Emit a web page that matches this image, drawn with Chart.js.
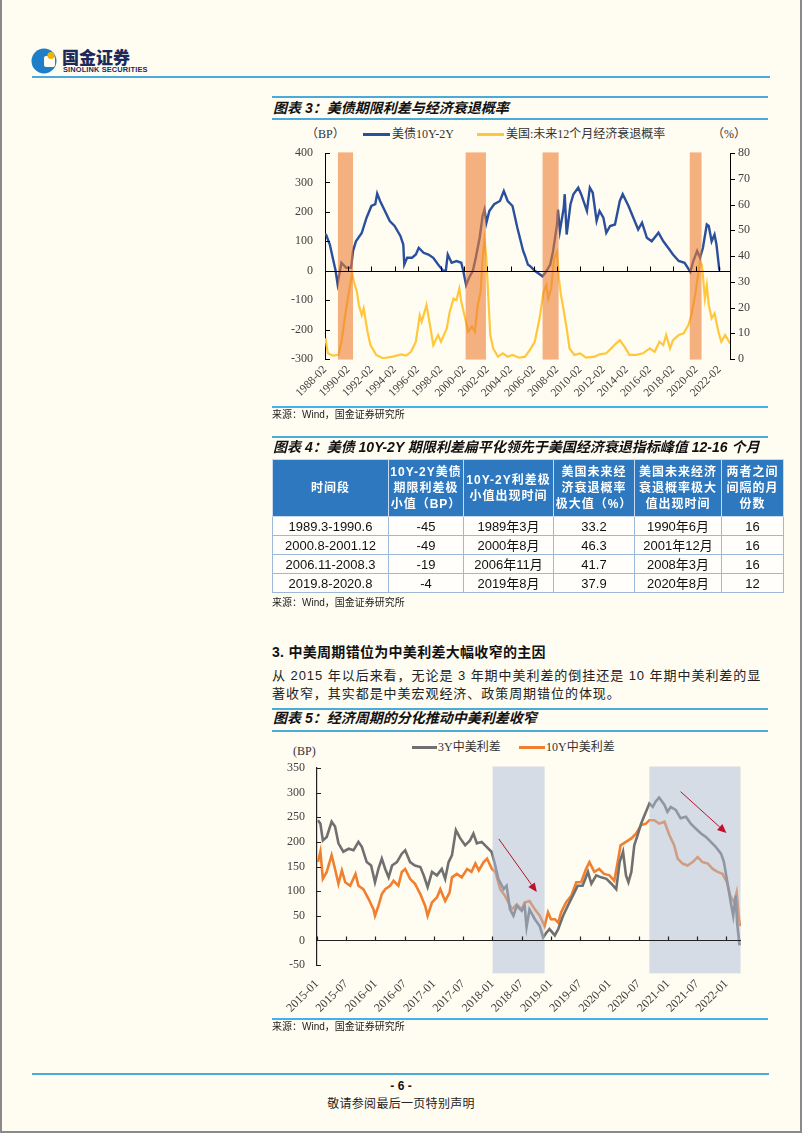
<!DOCTYPE html>
<html>
<head>
<meta charset="utf-8">
<script src="https://cdn.jsdelivr.net/npm/chart.js@4.4.1/dist/chart.umd.min.js"></script>
<style>
html,body{margin:0;padding:0;background:#FFFCF2;}
#page{position:relative;width:802px;height:1133px;overflow:hidden;background:#FFFCF2;font-family:"Liberation Sans","Noto Sans CJK SC",sans-serif;color:#1a1a1a;}
.abs{position:absolute;white-space:nowrap;}
.hl{position:absolute;height:2px;background:#4AAAD9;}
.ttl{position:absolute;left:273px;font-family:"Liberation Sans","Noto Sans CJK SC",sans-serif;font-size:14px;font-weight:bold;font-style:italic;line-height:16px;letter-spacing:0;color:#111;white-space:nowrap;}
.src{position:absolute;left:272px;font-size:10px;line-height:12px;color:#222;white-space:nowrap;}
.leg{position:absolute;font-family:"Liberation Serif","Noto Sans CJK SC",serif;font-size:12px;line-height:14px;color:#333;white-space:nowrap;}
.lm{position:absolute;height:3px;}
#t4{position:absolute;left:272px;top:459px;width:511px;border-collapse:collapse;table-layout:fixed;font-family:"Liberation Sans","Noto Sans CJK SC",sans-serif;}
#t4 th{background:#2D78BE;color:#fff;font-size:12px;font-weight:bold;line-height:16px;letter-spacing:1px;height:56px;padding:0;border:1px solid #C9DAEE;text-align:center;}
#t4 td{background:#FFFEFA;font-size:13px;line-height:17px;height:18px;padding:0;border:1px solid #9DB9D8;text-align:center;color:#111;}
canvas{position:absolute;}
</style>
</head>
<body>
<div id="page">
  <!-- page frame -->
  <div class="abs" style="left:0;top:0;width:2px;height:1133px;background:#8A8A8A;"></div>
  <div class="abs" style="left:800px;top:0;width:2px;height:1133px;background:#8A8A8A;"></div>
  <div class="abs" style="left:0;top:1131px;width:802px;height:2px;background:#8A8A8A;"></div>

  <!-- header -->
  <svg style="position:absolute;left:31px;top:47px" width="28" height="28" viewBox="0 0 28 28">
    <circle cx="13" cy="14" r="12.5" fill="#1E7FC8"/>
    <rect x="13" y="9" width="11" height="11" rx="2" fill="#FFFCF2"/>
    <circle cx="20" cy="8.5" r="3.6" fill="#F2B400"/>
  </svg>
  <div class="abs" style="left:62px;top:47px;font-family:'Noto Sans CJK SC';font-weight:900;font-size:17px;line-height:20px;color:#1B2A5B;">国金证券</div>
  <div class="abs" style="left:63px;top:65px;font-family:'Liberation Sans';font-weight:bold;font-size:7.4px;line-height:9px;color:#1B2A5B;letter-spacing:0.15px;">SINOLINK SECURITIES</div>
  <div class="hl" style="left:32px;top:76px;width:738px;"></div>

  <!-- chart 3 title -->
  <div class="hl" style="left:272px;top:96px;width:496px;"></div>
  <div class="ttl" style="top:100px;">图表 3：美债期限利差与经济衰退概率</div>
  <div class="hl" style="left:272px;top:118px;width:496px;"></div>

  <!-- chart 3 legend -->
  <div class="leg" style="left:306px;top:127px;">（BP）</div>
  <div class="lm" style="left:363px;top:133px;width:27px;background:#2A4F9C;"></div>
  <div class="leg" style="left:392px;top:127px;">美债10Y-2Y</div>
  <div class="lm" style="left:477px;top:133px;width:27px;background:#FFC83C;"></div>
  <div class="leg" style="left:506px;top:127px;">美国:未来12个月经济衰退概率</div>
  <div class="leg" style="left:712px;top:127px;">（%）</div>

  <canvas id="c1" width="500" height="290" style="left:272px;top:120px;width:500px;height:290px;"></canvas>

  <div class="hl" style="left:272px;top:406px;width:496px;background:#3FB2EA;"></div>
  <div class="src" style="top:409px;">来源：Wind，国金证券研究所</div>

  <!-- table 4 -->
  <div class="hl" style="left:272px;top:436px;width:496px;"></div>
  <div class="ttl" style="top:439px;">图表 4：美债 10Y-2Y 期限利差扁平化领先于美国经济衰退指标峰值 12-16 个月</div>
  <table id="t4"></table>
  <div class="src" style="top:597px;">来源：Wind，国金证券研究所</div>

  <!-- section text -->
  <div class="abs" style="left:272px;top:644px;font-size:14px;font-weight:bold;line-height:17px;color:#111;letter-spacing:0.3px;">3. 中美周期错位为中美利差大幅收窄的主因</div>
  <div class="abs" style="left:272px;top:667px;font-size:13px;line-height:18px;color:#222;letter-spacing:0.95px;">从 2015 年以后来看，无论是 3 年期中美利差的倒挂还是 10 年期中美利差的显<br>著收窄，其实都是中美宏观经济、政策周期错位的体现。</div>

  <!-- chart 5 title -->
  <div class="hl" style="left:272px;top:708px;width:496px;"></div>
  <div class="ttl" style="top:710px;">图表 5：经济周期的分化推动中美利差收窄</div>
  <div class="hl" style="left:272px;top:730px;width:496px;"></div>

  <!-- chart 5 legend -->
  <div class="leg" style="left:293px;top:744px;">(BP)</div>
  <div class="lm" style="left:412px;top:746px;width:25px;background:#707070;"></div>
  <div class="leg" style="left:438px;top:740px;">3Y中美利差</div>
  <div class="lm" style="left:519px;top:746px;width:26px;background:#F07F2E;"></div>
  <div class="leg" style="left:546px;top:740px;">10Y中美利差</div>

  <canvas id="c2" width="480" height="290" style="left:272px;top:740px;width:480px;height:290px;"></canvas>

  <div class="hl" style="left:272px;top:1018px;width:496px;background:#3FB2EA;"></div>
  <div class="src" style="top:1021px;">来源：Wind，国金证券研究所</div>

  <!-- footer -->
  <div class="hl" style="left:32px;top:1073px;width:737px;"></div>
  <div class="abs" style="left:0;width:802px;top:1079px;text-align:center;font-size:12px;font-weight:bold;line-height:15px;color:#111;">- 6 -</div>
  <div class="abs" style="left:0;width:802px;top:1097px;text-align:center;font-size:12px;line-height:15px;color:#222;letter-spacing:0.3px;">敬请参阅最后一页特别声明</div>
</div>

<script>
// ---------------- Chart 3 data ----------------
const xTickLabels1 = ['1988-02','1990-02','1992-02','1994-02','1996-02','1998-02','2000-02','2002-02','2004-02','2006-02','2008-02','2010-02','2012-02','2014-02','2016-02','2018-02','2020-02','2022-02'];
const spreadDates = [
 '1988-02','1988-03','1988-07','1988-10','1989-01','1989-03','1989-07','1989-12','1990-05','1990-07',
 '1990-10','1991-04','1991-09','1992-02','1992-06','1992-08','1992-11','1993-04','1993-09','1994-02',
 '1994-08','1994-11','1994-12','1995-03','1995-08','1995-12','1996-03','1996-08','1997-01','1997-06',
 '1997-11','1998-04','1998-07','1998-09','1999-01','1999-06','1999-11','2000-01','2000-04','2000-07',
 '2000-11','2001-02','2001-06','2001-09','2001-11','2002-01','2002-04','2002-09','2003-03','2003-07',
 '2003-11','2004-04','2004-09','2005-03','2005-05','2005-08','2005-10','2006-03','2006-11','2007-02',
 '2007-07','2007-10','2008-02','2008-03','2008-05','2008-09','2008-10','2008-12','2009-04','2009-07',
 '2009-12','2010-03','2010-09','2010-12','2011-03','2011-07','2011-10','2012-02','2012-05','2012-09',
 '2013-02','2013-07','2013-10','2014-04','2014-09','2015-02','2015-06','2015-11','2016-04','2016-11',
 '2017-04','2017-09','2018-02','2018-08','2019-02','2019-08','2019-11','2020-03','2020-06','2020-09',
 '2021-01','2021-03','2021-06','2021-09','2021-11','2022-02'];
const spreadValues = [
 125,123,89,44,0,-45,27,10,10,67,
 100,128,180,220,226,262,237,203,169,152,
 118,89,21,44,44,55,78,61,55,44,
 21,1,0,55,27,33,27,0,-49,-24,
 0,44,112,186,208,163,203,226,237,271,
 237,220,146,67,50,20,16,0,-19,-7,
 21,67,157,208,135,214,260,123,226,260,
 282,260,203,282,265,169,203,180,129,152,
 157,237,260,220,180,140,163,112,100,129,
 100,78,55,33,27,-4,33,67,44,78,
 157,152,100,123,89,1];
const probDates = [
 '1988-02','1988-03','1988-05','1988-10','1989-04','1989-07','1989-12','1990-04','1990-06','1990-08',
 '1990-11','1991-01','1991-04','1991-06','1991-10','1992-01','1992-07','1993-02','1993-12','1994-09',
 '1995-02','1995-07','1995-12','1996-04','1996-06','1996-09','1996-11','1997-02','1997-06','1997-11',
 '1998-02','1998-08','1998-11','1999-03','1999-06','1999-09','1999-11','2000-03','2000-06','2000-10',
 '2001-01','2001-04','2001-07','2001-09','2001-11','2002-01','2002-03','2002-05','2002-08','2003-01',
 '2003-06','2003-11','2004-04','2004-11','2005-05','2005-10','2006-03','2006-08','2006-12','2007-03',
 '2007-05','2007-08','2007-11','2008-02','2008-04','2008-06','2008-08','2008-12','2009-03','2009-08',
 '2010-02','2010-08','2011-05','2011-10','2012-05','2012-10','2013-03','2013-07','2013-12','2014-05',
 '2014-12','2015-07','2016-02','2016-07','2016-12','2017-04','2017-07','2017-11','2018-02','2018-08',
 '2019-01','2019-06','2019-09','2020-01','2020-04','2020-06','2020-08','2020-11','2021-01','2021-03',
 '2021-06','2021-09','2022-01','2022-04','2022-08','2022-12','2023-01'];
const probValues = [
 8,6.7,2.2,1.3,1.6,6.7,19.7,28.7,33.2,30,
 26,21,17,19.7,10.6,5.4,1.6,0.3,0.9,1.8,
 1.3,2.8,6.7,17,14.5,18.3,21,14.5,5.4,9.3,
 6.7,11.9,18.3,23.5,22.9,27.4,22.2,15.8,10.6,12.6,
 10.6,21,26,39,46.3,39,23.5,9.3,4.1,0.9,
 2.2,0.9,1.6,0.5,0.9,3.5,6.7,15.8,26,28.7,
 23.5,27.4,39,41.7,31.3,25,21,11.9,4.1,1.6,
 2.2,0.5,0.9,1.8,2.2,4.1,6.0,7.3,4.7,1.6,
 1.6,2.2,4.1,2.8,6.7,5.4,9.3,4.1,7.3,9.3,
 10,13.2,17,25,32.7,37.9,36.5,23.5,28.7,21,
 15.8,17.7,10.6,6.7,9.3,6.7,6];
const recessionStarts = ['1989-03-12','2000-03-15','2006-11-04','2019-07-12'];
const recessionEnds   = ['1990-07-01','2001-12-15','2008-03-21','2020-07-18'];

// ---------------- Table 4 data ----------------
const tableHeaders = [['时间段'],['10Y-2Y美债','期限利差极','小值（BP）'],['10Y-2Y利差极','小值出现时间'],['美国未来经','济衰退概率','极大值（%）'],['美国未来经济','衰退概率极大','值出现时间'],['两者之间','间隔的月','份数']];
const periods = ['1989.3-1990.6','2000.8-2001.12','2006.11-2008.3','2019.8-2020.8'];
const minSpread = ['-45','-49','-19','-4'];
const minSpreadTime = ['1989年3月','2000年8月','2006年11月','2019年8月'];
const maxProb = ['33.2','46.3','41.7','37.9'];
const maxProbTime = ['1990年6月','2001年12月','2008年3月','2020年8月'];
const lagMonths = ['16','16','16','12'];

// ---------------- Chart 5 data ----------------
const xTickLabels2 = ['2015-01','2015-07','2016-01','2016-07','2017-01','2017-07','2018-01','2018-07','2019-01','2019-07','2020-01','2020-07','2021-01','2021-07','2022-01'];
const cn3yDates = [
 '2015-01-07','2015-01-22','2015-02-07','2015-03-01','2015-04-01','2015-04-22','2015-05-13','2015-06-13','2015-07-16','2015-08-16',
 '2015-09-16','2015-10-07','2015-11-07','2015-12-04','2015-12-28','2016-01-19','2016-02-10','2016-03-01','2016-03-22','2016-04-13',
 '2016-05-13','2016-06-13','2016-07-04','2016-08-04','2016-09-04','2016-10-07','2016-10-28','2016-11-22','2016-12-19','2017-01-19',
 '2017-02-19','2017-03-10','2017-04-01','2017-04-22','2017-05-16','2017-06-13','2017-07-13','2017-08-13','2017-09-04','2017-09-25',
 '2017-10-25','2017-11-25','2017-12-25','2018-01-13','2018-02-07','2018-03-10','2018-03-28','2018-04-19','2018-05-10','2018-06-01',
 '2018-07-01','2018-07-19','2018-08-01','2018-08-19','2018-09-22','2018-10-22','2018-11-13','2018-12-04','2018-12-22','2019-01-25',
 '2019-02-16','2019-03-16','2019-04-16','2019-05-16','2019-06-16','2019-07-16','2019-08-19','2019-09-10','2019-10-10','2019-11-10',
 '2019-12-13','2020-01-13','2020-02-13','2020-03-04','2020-03-25','2020-04-13','2020-04-28','2020-05-16','2020-06-04','2020-06-25',
 '2020-07-16','2020-08-07','2020-09-07','2020-09-28','2020-10-16','2020-11-07','2020-12-10','2020-12-28','2021-01-19','2021-02-19',
 '2021-03-19','2021-04-22','2021-05-22','2021-06-22','2021-07-25','2021-08-25','2021-09-25','2021-10-25','2021-11-28','2021-12-16',
 '2022-01-07','2022-01-28','2022-02-13','2022-02-28','2022-03-07','2022-03-22'];
const cn3yValues = [
 244,237,203,210,241,231,197,180,186,183,
 200,190,159,152,118,145,166,145,128,152,
 159,176,183,159,152,149,132,108,139,132,
 145,125,159,173,224,207,193,203,217,197,
 200,190,180,159,125,104,111,63,50,70,
 60,71,27,63,43,29,6,16,23,10,
 23,50,71,91,111,111,139,115,132,128,
 125,115,104,159,180,132,118,139,193,214,
 237,254,278,271,282,290,275,261,271,265,
 248,251,237,227,217,210,200,190,176,159,
 118,77,50,91,36,-10];
const cn10yDates = [
 '2015-01-07','2015-01-22','2015-02-07','2015-03-01','2015-04-01','2015-04-22','2015-05-13','2015-06-04','2015-06-25','2015-07-25',
 '2015-08-28','2015-09-16','2015-10-16','2015-11-19','2015-12-19','2015-12-28','2016-01-19','2016-02-10','2016-03-01','2016-04-01',
 '2016-04-22','2016-05-22','2016-06-13','2016-07-04','2016-08-04','2016-09-04','2016-10-07','2016-11-07','2016-11-22','2016-12-19',
 '2017-01-19','2017-02-10','2017-03-10','2017-04-07','2017-04-22','2017-05-22','2017-06-22','2017-07-25','2017-08-22','2017-09-16',
 '2017-10-07','2017-11-07','2017-11-28','2017-12-28','2018-01-19','2018-02-19','2018-03-19','2018-05-01','2018-06-01','2018-07-01',
 '2018-07-19','2018-08-19','2018-09-22','2018-10-22','2018-11-22','2018-12-13','2019-01-01','2019-01-25','2019-02-16','2019-03-04',
 '2019-04-04','2019-05-07','2019-06-07','2019-07-07','2019-08-07','2019-08-28','2019-09-28','2019-10-28','2019-11-28','2020-01-01',
 '2020-02-01','2020-02-22','2020-03-10','2020-04-13','2020-05-16','2020-06-16','2020-07-16','2020-08-16','2020-09-07','2020-10-07',
 '2020-11-07','2020-12-10','2021-01-10','2021-02-10','2021-03-01','2021-04-01','2021-05-01','2021-06-04','2021-07-04','2021-08-04',
 '2021-09-07','2021-10-07','2021-11-07','2021-12-07','2022-01-04','2022-01-25','2022-02-19','2022-03-04','2022-03-19','2022-03-25'];
const cn10yValues = [
 159,180,125,139,173,145,115,142,118,111,
 135,111,104,84,63,50,70,94,104,111,
 121,111,139,145,125,115,94,70,50,77,
 87,104,80,97,128,135,128,145,139,156,
 142,159,166,145,139,104,90,63,73,63,
 77,80,63,50,29,57,43,43,36,57,
 77,91,118,118,145,159,139,145,135,132,
 121,159,193,200,207,217,234,237,244,244,
 237,241,214,193,166,156,152,159,169,159,
 156,145,139,135,118,91,77,97,43,29];
const shadeStarts2 = ['2018-01-02','2020-09-07'];
const shadeEnds2   = ['2018-11-22','2022-03-28'];
const arrowFrom2 = [['2018-02-10',206],['2021-03-19',302]];
const arrowTo2   = [['2018-10-04',98],['2022-01-01',218]];

// ---------------- helpers ----------------
function monthsFrom(s, baseY, baseM){
  const p = s.split('-').map(Number);
  return (p[0]-baseY)*12 + (p[1]-baseM) + (p.length>2 ? (p[2]-1)/30 : 0);
}
const m1 = s => monthsFrom(s,1988,2);
const m2 = s => monthsFrom(s,2015,1);
const SERIF = '"Liberation Serif","Times New Roman","Noto Sans CJK SC",serif';
const pts = (dates, vals, f) => dates.map((d,i)=>({x:f(d), y:vals[i]}));
const px = v => Math.round(v)+0.5;

// ---------------- table ----------------
(function(){
  const t = document.getElementById('t4');
  const widths = [116,75,90,81,87,62];
  let html = '<colgroup>' + widths.map(w=>'<col style="width:'+w+'px">').join('') + '</colgroup>';
  html += '<tr>' + tableHeaders.map(h=>'<th>'+h.join('<br>')+'</th>').join('') + '</tr>';
  for (let i=0;i<periods.length;i++){
    html += '<tr>' + [periods[i],minSpread[i],minSpreadTime[i],maxProb[i],maxProbTime[i],lagMonths[i]].map(v=>'<td>'+v+'</td>').join('') + '</tr>';
  }
  t.innerHTML = html;
})();

// ---------------- chart 3 ----------------
const overlay1 = {
  id:'overlay1',
  afterDatasetsDraw(chart){
    const {ctx, chartArea:a, scales:{x, y, y1}} = chart;
    ctx.save();
    ctx.fillStyle = 'rgba(237,125,49,0.6)';
    for (let i=0;i<recessionStarts.length;i++){
      const x0 = x.getPixelForValue(m1(recessionStarts[i]));
      const x1 = x.getPixelForValue(m1(recessionEnds[i]));
      const yt = y.getPixelForValue(402), yb = y.getPixelForValue(-302);
      ctx.fillRect(x0, yt, x1-x0, yb-yt);
    }
    ctx.strokeStyle = '#000'; ctx.lineWidth = 1;
    ctx.beginPath();
    const y0 = px(y.getPixelForValue(0));
    ctx.moveTo(a.left, y0); ctx.lineTo(a.right, y0);
    x.ticks.forEach(t=>{ const xp = px(x.getPixelForValue(t.value)); ctx.moveTo(xp, y0); ctx.lineTo(xp, y0-5); });
    y.ticks.forEach(t=>{ const yp = px(y.getPixelForValue(t.value)); ctx.moveTo(a.left, yp); ctx.lineTo(a.left+5, yp); });
    y1.ticks.forEach(t=>{ const yp = px(y1.getPixelForValue(t.value)); ctx.moveTo(a.right, yp); ctx.lineTo(a.right+5, yp); });
    ctx.stroke();
    ctx.restore();
  }
};

new Chart(document.getElementById('c1'), {
  type:'line',
  data:{ datasets:[
    {label:'美债10Y-2Y', data:pts(spreadDates, spreadValues, m1), yAxisID:'y', borderColor:'#2A4F9C', borderWidth:2.4, pointRadius:0, tension:0},
    {label:'美国:未来12个月经济衰退概率', data:pts(probDates, probValues, m1), yAxisID:'y1', borderColor:'#FFC83C', borderWidth:2.2, pointRadius:0, tension:0}
  ]},
  options:{
    responsive:false, animation:false, events:[],
    layout:{padding:{top:33, left:0, right:0, bottom:0}},
    plugins:{legend:{display:false}, tooltip:{enabled:false}},
    scales:{
      x:{type:'linear', min:0, max:m1('2023-01'),
        afterBuildTicks:s=>{ s.ticks = xTickLabels1.map(l=>({value:m1(l)})); },
        afterFit:s=>{ s.height = 51; },
        ticks:{autoSkip:false, minRotation:45, maxRotation:45, padding:4, color:'#404040', font:{family:SERIF, size:11.5}, callback:(v,i)=>xTickLabels1[i]},
        grid:{display:false, drawTicks:false}, border:{display:false}},
      y:{position:'left', min:-300, max:400,
        afterBuildTicks:s=>{ s.ticks = [-300,-200,-100,0,100,200,300,400].map(v=>({value:v})); },
        afterFit:s=>{ s.width = 53; },
        ticks:{padding:12, color:'#404040', font:{family:SERIF, size:12}},
        grid:{display:false, drawTicks:false}, border:{display:true, color:'#000', width:1}},
      y1:{position:'right', min:0, max:80,
        afterBuildTicks:s=>{ s.ticks = [0,10,20,30,40,50,60,70,80].map(v=>({value:v})); },
        afterFit:s=>{ s.width = 42; },
        ticks:{padding:8, color:'#404040', font:{family:SERIF, size:12}},
        grid:{display:false, drawTicks:false}, border:{display:true, color:'#000', width:1}}
    }
  },
  plugins:[overlay1]
});

// ---------------- chart 5 ----------------
function drawArrow(ctx, x0, y0, x1, y1){
  const ang = Math.atan2(y1-y0, x1-x0), L = 9, W = 4;
  const bx = x1 - L*Math.cos(ang), by = y1 - L*Math.sin(ang);
  ctx.beginPath(); ctx.moveTo(x0,y0); ctx.lineTo(bx,by); ctx.stroke();
  ctx.beginPath();
  ctx.moveTo(x1,y1);
  ctx.lineTo(bx + W*Math.sin(ang), by - W*Math.cos(ang));
  ctx.lineTo(bx - W*Math.sin(ang), by + W*Math.cos(ang));
  ctx.closePath(); ctx.fill();
}
const overlay2 = {
  id:'overlay2',
  afterDatasetsDraw(chart){
    const {ctx, chartArea:a, scales:{x, y}} = chart;
    ctx.save();
    ctx.fillStyle = 'rgba(173,188,216,0.5)';
    for (let i=0;i<shadeStarts2.length;i++){
      const x0 = x.getPixelForValue(m2(shadeStarts2[i]));
      const x1 = x.getPixelForValue(m2(shadeEnds2[i]));
      const yt = y.getPixelForValue(353), yb = y.getPixelForValue(-67);
      ctx.fillRect(x0, yt, x1-x0, yb-yt);
    }
    ctx.strokeStyle = '#222'; ctx.lineWidth = 1.2;
    ctx.beginPath();
    const y0 = px(y.getPixelForValue(0));
    ctx.moveTo(a.left, y0); ctx.lineTo(a.right, y0);
    x.ticks.forEach(t=>{ const xp = px(x.getPixelForValue(t.value)); ctx.moveTo(xp, y0); ctx.lineTo(xp, y0-4); });
    y.ticks.forEach(t=>{ const yp = px(y.getPixelForValue(t.value)); ctx.moveTo(a.left, yp); ctx.lineTo(a.left+4, yp); });
    ctx.stroke();
    ctx.strokeStyle = '#B0142B'; ctx.fillStyle = '#C0102A'; ctx.lineWidth = 1;
    for (let i=0;i<arrowFrom2.length;i++){
      drawArrow(ctx,
        x.getPixelForValue(m2(arrowFrom2[i][0])), y.getPixelForValue(arrowFrom2[i][1]),
        x.getPixelForValue(m2(arrowTo2[i][0])), y.getPixelForValue(arrowTo2[i][1]));
    }
    ctx.restore();
  }
};

new Chart(document.getElementById('c2'), {
  type:'line',
  data:{ datasets:[
    {label:'3Y中美利差', data:pts(cn3yDates, cn3yValues, m2), borderColor:'#707070', borderWidth:2.6, pointRadius:0, tension:0},
    {label:'10Y中美利差', data:pts(cn10yDates, cn10yValues, m2), borderColor:'#F07F2E', borderWidth:2.6, pointRadius:0, tension:0}
  ]},
  options:{
    responsive:false, animation:false, events:[],
    layout:{padding:{top:28, left:0, right:11, bottom:0}},
    plugins:{legend:{display:false}, tooltip:{enabled:false}},
    scales:{
      x:{type:'linear', min:0, max:m2('2022-04'),
        afterBuildTicks:s=>{ s.ticks = xTickLabels2.map(l=>({value:m2(l)})); },
        afterFit:s=>{ s.height = 65; },
        ticks:{autoSkip:false, minRotation:45, maxRotation:45, padding:12, color:'#404040', font:{family:SERIF, size:12}, callback:(v,i)=>xTickLabels2[i]},
        grid:{display:false, drawTicks:false}, border:{display:false}},
      y:{position:'left', min:-50, max:350,
        afterBuildTicks:s=>{ s.ticks = [-50,0,50,100,150,200,250,300,350].map(v=>({value:v})); },
        afterFit:s=>{ s.width = 45; },
        ticks:{padding:12, color:'#404040', font:{family:SERIF, size:12}},
        grid:{display:false, drawTicks:false}, border:{display:true, color:'#222', width:1.2}}
    }
  },
  plugins:[overlay2]
});
</script>
</body>
</html>
